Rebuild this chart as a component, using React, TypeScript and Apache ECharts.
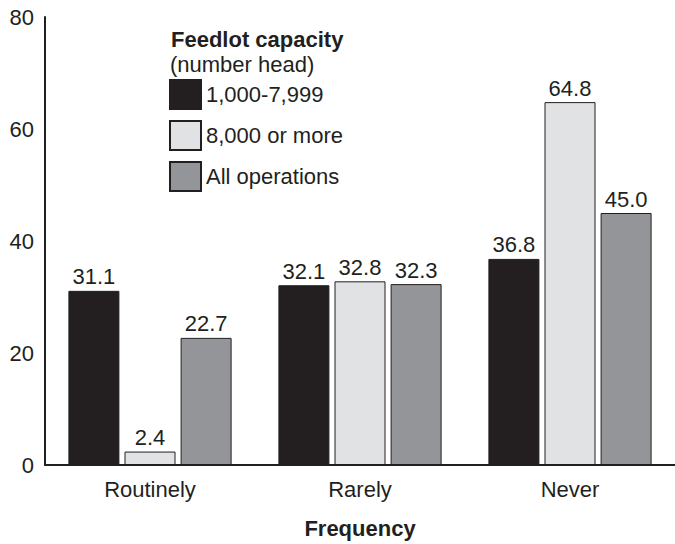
import React, { useEffect, useRef } from "react";
import * as echarts from "echarts";

const categories = ["Routinely", "Rarely", "Never"];
const seriesNames = ["1,000-7,999", "8,000 or more", "All operations"];
const small = [31.1, 32.1, 36.8];
const large = [2.4, 32.8, 64.8];
const allOps = [22.7, 32.3, 45.0];
const yTicks = { min: 0, max: 80, interval: 20 };

const FONT = "'Liberation Sans', Arial, Helvetica, sans-serif";
const INK = "#231f20";
const colors = ["#231f20", "#e1e2e3", "#939598"];
const FS = 22;

export default function App() {
  const ref = useRef<HTMLDivElement>(null);
  useEffect(() => {
    if (!ref.current) return;
    const chart = echarts.init(ref.current, undefined, { renderer: "svg" });
    const values = [small, large, allOps];
    chart.setOption({
      animation: false,
      backgroundColor: "#ffffff",
      textStyle: { fontFamily: FONT, color: INK },
      grid: { left: 45, right: 0, top: 17, bottom: 77, containLabel: false },
      legend: {
        orient: "vertical",
        left: 169,
        top: 79,
        padding: 0,
        itemWidth: 31,
        itemHeight: 29,
        itemGap: 10,
        icon: "rect",
        data: seriesNames,
        textStyle: { fontFamily: FONT, fontSize: FS, color: INK },
      },
      graphic: [
        {
          type: "text",
          left: 171,
          top: 28,
          style: { text: "Feedlot capacity", font: `bold ${FS}px ${FONT}`, fill: INK },
        },
        {
          type: "text",
          left: 170,
          top: 53,
          style: { text: "(number head)", font: `${FS}px ${FONT}`, fill: INK },
        },
      ],
      xAxis: {
        type: "category",
        data: categories,
        name: "Frequency",
        nameLocation: "middle",
        nameGap: 52,
        nameTextStyle: { fontFamily: FONT, fontSize: FS, fontWeight: "bold", color: INK },
        axisLine: { lineStyle: { color: INK, width: 2 } },
        axisTick: { show: false },
        axisLabel: { fontFamily: FONT, fontSize: FS, color: INK, margin: 13 },
      },
      yAxis: {
        type: "value",
        min: yTicks.min,
        max: yTicks.max,
        interval: yTicks.interval,
        axisLine: { show: true, lineStyle: { color: INK, width: 2 } },
        axisTick: { show: false },
        splitLine: { show: false },
        axisLabel: { fontFamily: FONT, fontSize: FS, color: INK, margin: 11 },
      },
      series: seriesNames.map((name, i) => ({
        name,
        type: "bar",
        data: values[i],
        barWidth: 51,
        barGap: "10%",
        itemStyle: { color: colors[i], borderColor: INK, borderWidth: 1 },
        label: {
          show: true,
          position: "top",
          distance: 3,
          fontFamily: FONT,
          fontSize: FS,
          color: INK,
          formatter: (p: any) => Number(p.value).toFixed(1),
        },
      })),
    });
    return () => chart.dispose();
  }, []);
  return (
    <div
      ref={ref}
      style={{ position: "fixed", left: 0, top: 0, width: 675, height: 544 }}
    />
  );
}
